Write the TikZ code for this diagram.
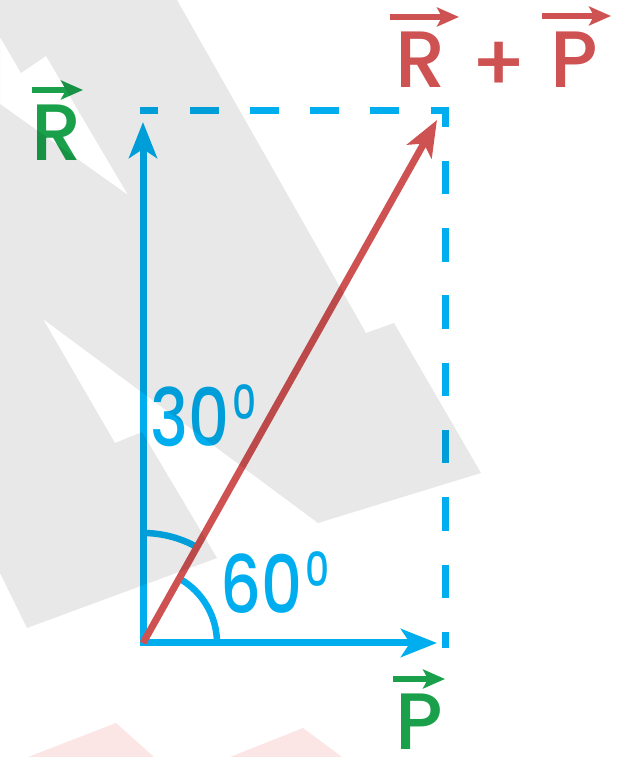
\documentclass[tikz,border=0pt]{standalone}
\usepackage{fontspec}
\setmainfont{Poppins}
\newfontfamily\lblfont{Poppins Medium}
\usepackage{tikz}
\usetikzlibrary{positioning,arrows.meta}
\definecolor{vecblue}{RGB}{0,174,239}
\definecolor{vecred}{RGB}{207,82,82}
\definecolor{vecgreen}{RGB}{26,160,75}
\definecolor{markpink}{RGB}{214,0,0}
\newcommand{\angsup}[1]{\raisebox{27pt}{\fontsize{47}{47}\selectfont #1}}
\newcommand{\anglabel}[2]{\scalebox{0.8}[1]{#1\hspace{4pt}\angsup{#2}}}
\tikzset{
  vec/.style={line width=7pt, -{Stealth[length=36pt, width=28pt, inset=9pt]}},
  dashbox/.style={line width=7pt, draw=vecblue},
  angarc/.style={line width=6.5pt, draw=vecblue},
  lbl/.style={inner sep=0pt, font=\lblfont\fontsize{80}{80}\selectfont},
  anglbl/.style={inner sep=0pt, text=vecblue, font=\lblfont\fontsize{80}{80}\selectfont},
  txtvec/.style={line width=5.5pt, -{Stealth[length=22pt, width=19pt, inset=5pt]}},
}

\begin{document}
\begin{tikzpicture}[x=1pt, y=1pt]
  \useasboundingbox (0,0) rectangle (637,757);
  \coordinate (O) at (143,114);
  \coordinate (Ptip) at (437,114);
  \coordinate (Rtip) at (143,635);
  \coordinate (Stip) at (437,637);
  \coordinate (C) at (445,646.5);
  \coordinate (Ct) at (139.5,646.5);
  \coordinate (Cb) at (445,109);

  % dashed parallelogram sides
  \draw[dashbox, dash pattern=on 29pt off 31.25pt, dash phase=11pt] ([xshift=3.5pt]C) -- (Ct);
  \draw[dashbox, dash pattern=on 33.5pt off 33.8pt, dash phase=13.5pt] ([yshift=3.5pt]C) -- (Cb);

  % angles
  \draw[angarc] ([shift={(90:110)}]O) arc[start angle=90, end angle=60, radius=110];
  \draw[angarc] ([shift={(0:74)}]O) arc[start angle=0, end angle=60, radius=74];

  % vectors
  \draw[vec, draw=vecblue, {Stealth[length=36pt, width=28pt, inset=9pt]}-{Stealth[length=36pt, width=28pt, inset=9pt]}] (Rtip) -- (O) -- (Ptip);
  \draw[vec, draw=vecred] (O) -- (Stip);

  % labels
  \node[lbl, text=vecgreen] (labR) at (57,624.5) {R};
  \node[lbl, text=vecgreen] (labP) at (419,35) {P};
  \node[lbl, text=vecred] (labRsum) at (421,697.5) {R};
  \node[lbl, text=vecred] (labPlus) at (499,690) {+};
  \node[lbl, text=vecred] (labPsum) at (574,697.5) {P};
  \node[anglbl, anchor=base west] (lab30) at (150,310) {\anglabel{30}{0}};
  \node[anglbl, anchor=base west] (lab60) at (220,143) {\anglabel{60}{0}};

  \draw[txtvec, vecgreen] ([shift={(-25,42.5)}]labR.center) -- ([shift={(26,42.5)}]labR.center);
  \draw[txtvec, vecgreen] ([shift={(-26,43)}]labP.center) -- ([shift={(26,43)}]labP.center);
  \draw[txtvec, vecred] ([shift={(-31,42.5)}]labRsum.center) -- ([shift={(38,42.5)}]labRsum.center);
  \draw[txtvec, vecred] ([shift={(-32,43.5)}]labPsum.center) -- ([shift={(37,43.5)}]labPsum.center);

  % watermark
  \fill[black, opacity=0.09, even odd rule] (0,757) -- (177,757) -- (366,424) -- (394,434) -- (481,284) -- (318,234) -- (43,438) -- (115,314) -- (142,325) -- (217,199) -- (27,129) -- (0,184) -- cycle
    (0,720) -- (21,684) -- (46,701) -- (128,562) -- (0,653) -- cycle;
  \fill[markpink, opacity=0.1] (28,0) -- (116,34) -- (154,0) -- cycle;
  \fill[markpink, opacity=0.1] (230,0) -- (303,29) -- (342,0) -- cycle;
\end{tikzpicture}
\end{document}
